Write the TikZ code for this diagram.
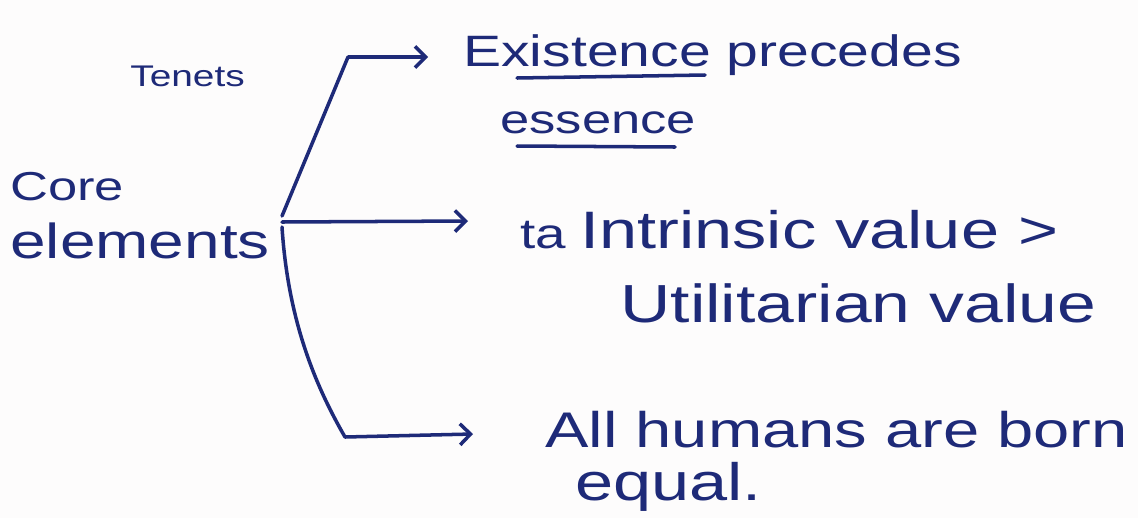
\documentclass[tikz,border=0pt]{standalone}
\usepackage{fontspec}
\setmainfont{Liberation Sans}
\newfontfamily\handfont[FakeStretch=1.3]{Liberation Sans}
\usetikzlibrary{arrows.meta}
\definecolor{InkBlue}{HTML}{1E2A78}
\definecolor{PaperWhite}{HTML}{FDFCFC}
\newcommand{\handsize}[1]{\handfont\fontsize{#1}{#1}\selectfont}

\begin{document}
\begin{tikzpicture}[x=0.02cm, y=-0.02cm,
    >={Straight Barb[length=6pt, width=12pt]},
    ink/.style={InkBlue, line width=2pt, line cap=round, line join=round},
    hand/.style={anchor=base west, inner sep=0pt, text=InkBlue, font=\handsize{28}}]
    % Page
    \fill[PaperWhite] (0,0) rectangle (1138,518);
    \useasboundingbox (0,0) rectangle (1138,518);

    % Left label
    \node[hand, font=\handsize{17}] (tenets) at (130,86) {Tenets};
    \node[hand, font=\handsize{23}] (core) at (10,200) {Core};
    \node[hand, font=\handsize{28}] (elements) at (10,258) {elements};

    % Branch points
    \coordinate (hub) at (282,222);
    \coordinate (topbend) at (348,57);
    \coordinate (lowbend) at (345,437);
    \coordinate (topend) at (428,57);
    \coordinate (midend) at (468,221);
    \coordinate (lowend) at (473,434);

    % Right texts
    \node[hand, font=\handsize{25}] (exist) at (463,66) {Existence precedes};
    \node[hand, font=\handsize{23}] (essence) at (500,133) {essence};
    \node[hand, font=\handsize{24}] (ta) at (520,248) {ta};
    \node[hand, font=\handsize{30}] (intrinsic) at (580,248) {Intrinsic value >};
    \node[hand, font=\handsize{30.5}] (utility) at (620,322) {Utilitarian value};
    \node[hand, font=\handsize{28.5}] (humans) at (545,447) {All humans are born};
    \node[hand, font=\handsize{30}] (equal) at (575,500) {equal.};

    % Underlines
    \draw[ink] (517,78) -- (705,75);
    \draw[ink] (517,146) -- (675,147);

    % Arrows
    \draw[ink, ->] ([yshift=0.12cm]hub) -- (topbend) -- (topend);
    \draw[ink, ->] (hub) -- (midend);
    \draw[ink, ->] ([yshift=-0.1cm]hub) .. controls (288,320) and (315,385) .. (lowbend) -- (lowend);
\end{tikzpicture}
\end{document}
